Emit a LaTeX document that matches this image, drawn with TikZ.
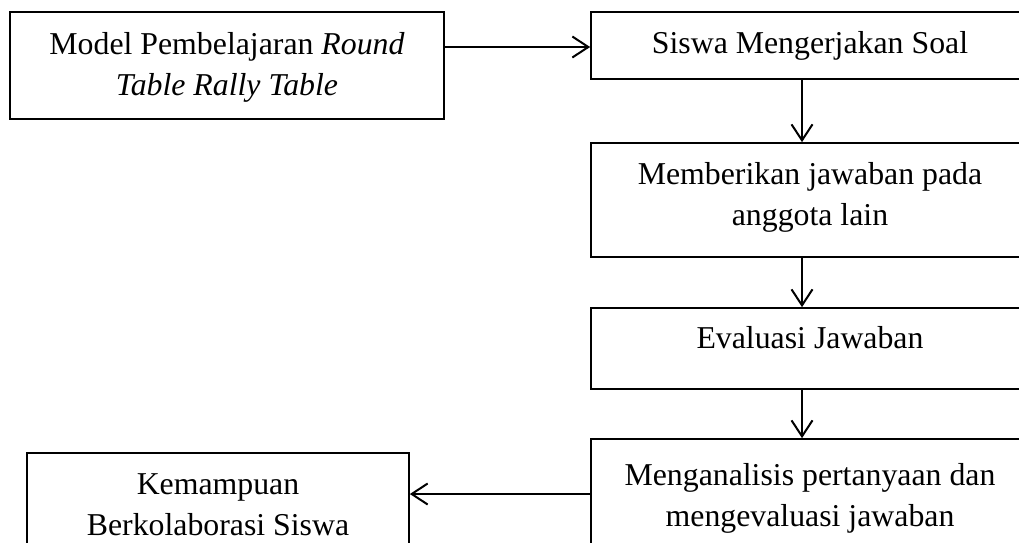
\documentclass[tikz,border=0pt]{standalone}
\usepackage{fontspec}
\setmainfont{Liberation Serif}
\usetikzlibrary{arrows.meta}
\newcommand{\bxtext}[2]{\raisebox{#1pt}[0pt][0pt]{\begin{tabular}[t]{@{}c@{}}#2\end{tabular}}}
\tikzset{
  box/.style={draw, line width=1.7pt, rectangle, inner sep=0pt,
    font=\fontsize{31.8}{41}\selectfont},
  arr/.style={line width=2pt, -{Straight Barb[length=16pt,width=21pt]}}
}
\begin{document}
\begin{tikzpicture}[x=1pt,y=-1pt]
\useasboundingbox[fill=white] (0,0) rectangle (1019,542);
\node[box, minimum width=434pt, minimum height=107pt] (b1) at (227,65.5)
  {\bxtext{11.5}{Model Pembelajaran \textit{Round}\\\textit{Table Rally Table}}};
\node[box, minimum width=438pt, minimum height=67pt] (b2) at (810,45.5)
  {\bxtext{-7.5}{Siswa Mengerjakan Soal}};
\node[box, minimum width=438pt, minimum height=114pt] (b3) at (810,200)
  {\bxtext{16}{Memberikan jawaban pada\\anggota lain}};
\node[box, minimum width=438pt, minimum height=81pt] (b4) at (810,348.5)
  {\bxtext{0.5}{Evaluasi Jawaban}};
\node[box, minimum width=438pt, minimum height=121pt] (b5) at (810,499.5)
  {\bxtext{14.5}{Menganalisis pertanyaan dan\\mengevaluasi jawaban}};
\node[box, minimum width=382pt, minimum height=107pt] (b6) at (218,506.5)
  {\bxtext{12.5}{Kemampuan\\Berkolaborasi Siswa}};
\coordinate (ax) at (802,0);
\coordinate (ay1) at (0,47);
\coordinate (ay2) at (0,494);
\draw[arr] (b1.east |- ay1) -- (b2.west |- ay1);
\draw[arr] (b2.south -| ax) -- (b3.north -| ax);
\draw[arr] (b3.south -| ax) -- (b4.north -| ax);
\draw[arr] (b4.south -| ax) -- (b5.north -| ax);
\draw[arr] (b5.west |- ay2) -- (b6.east |- ay2);
\end{tikzpicture}
\end{document}
